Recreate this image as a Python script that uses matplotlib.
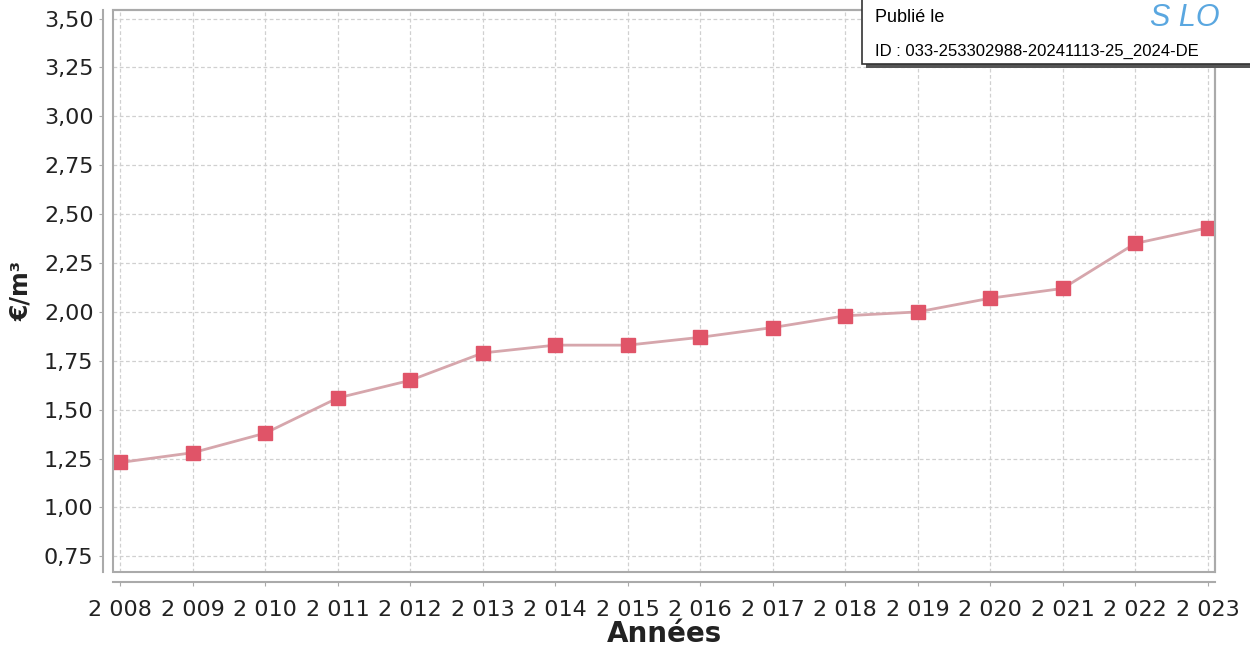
import matplotlib
matplotlib.use('Agg')
import matplotlib.pyplot as plt
from matplotlib.patches import Rectangle

# données
annees = [2008, 2009, 2010, 2011, 2012, 2013, 2014, 2015,
          2016, 2017, 2018, 2019, 2020, 2021, 2022, 2023]
prix = [1.23, 1.28, 1.38, 1.56, 1.65, 1.79, 1.83, 1.83,
        1.87, 1.92, 1.98, 2.00, 2.07, 2.12, 2.35, 2.43]
yticks = [0.75, 1.00, 1.25, 1.50, 1.75, 2.00, 2.25, 2.50, 2.75, 3.00, 3.25, 3.50]
xlabels = ['2 %03d' % (a - 2000) for a in annees]
yticklabels = [('%.2f' % v).replace('.', ',') for v in yticks]

plt.rcParams['font.family'] = ['DejaVu Sans']

fig = plt.figure(figsize=(12.5, 6.5), dpi=100)
ax = fig.add_axes([0.0904, 0.12, 0.8816, 0.865])

ax.plot(annees, prix, color='#d6a6ac', lw=2, zorder=3)
ax.plot(annees, prix, 's', color='#e05468', markersize=10, zorder=4)

ax.tick_params(axis='both', length=3, color='#aaaaaa', pad=4,
               labelsize=16, labelcolor='#222222')
ax.tick_params(axis='x', pad=10)
ax.set_xlim(2007.9, 2023.1)
ax.set_ylim(0.67, 3.545)
ax.set_xticks(annees)
ax.set_xticklabels(xlabels)
ax.set_yticks(yticks)
ax.set_yticklabels(yticklabels)
ax.grid(True, color='#d0d0d0', ls=(0, (3, 2)), lw=0.9)

# axes décalés + cadre
for s in ['left', 'bottom']:
    ax.spines[s].set_position(('outward', 7))
    ax.spines[s].set_color('#aaaaaa')
    ax.spines[s].set_linewidth(1.5)
for s in ['top', 'right']:
    ax.spines[s].set_color('#aaaaaa')
    ax.spines[s].set_linewidth(1.5)
ax.add_patch(Rectangle((0, 0), 1, 1, transform=ax.transAxes, fill=False,
                       ec='#aaaaaa', lw=1.5, zorder=5, clip_on=False))

ax.set_xlabel('Années', fontsize=20, fontweight='bold', color='#222', labelpad=0)
ax.set_ylabel('€/m³', fontsize=17, fontweight='bold', color='#222', labelpad=8)

# encadré du tampon
fig.patches.append(Rectangle((866 / 1250, 1 - 68 / 650), 0.32, 0.2,
                             transform=fig.transFigure, fc='#555555', ec='none', zorder=9))
fig.patches.append(Rectangle((862 / 1250, 1 - 64 / 650), 0.32, 0.2,
                             transform=fig.transFigure, fc='white', ec='#333333', lw=1.2, zorder=10))
fig.text(875 / 1250, 1 - 17 / 650, 'Publié le', fontsize=13, family='Liberation Sans',
         va='center', ha='left', zorder=11)
fig.text(875 / 1250, 1 - 51 / 650, 'ID : 033-253302988-20241113-25_2024-DE', fontsize=12,
         family='Liberation Sans', va='center', ha='left', zorder=11)
fig.text(1150 / 1250, 1 - 3 / 650, 'S LO', fontsize=22, style='italic', color='#5aa7e0',
         family='Liberation Sans', va='top', ha='left', zorder=12)

fig.savefig('out.png', dpi=100)
